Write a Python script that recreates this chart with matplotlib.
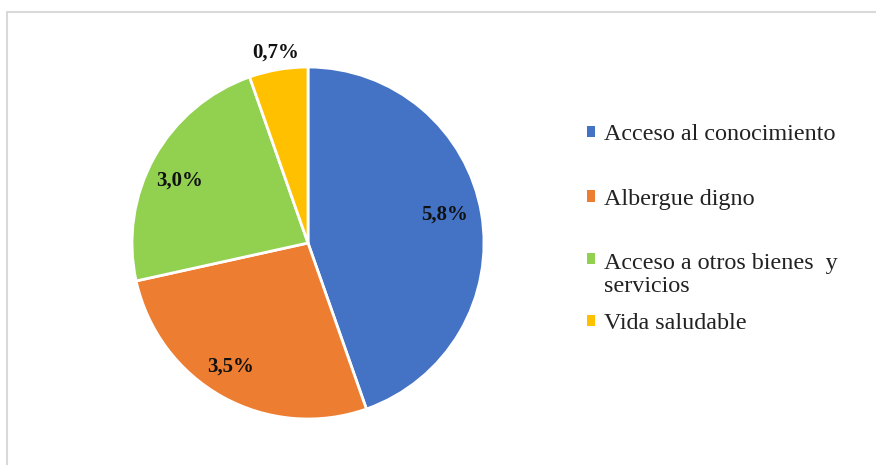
import numpy as np
import matplotlib as mpl
import matplotlib.pyplot as plt
from matplotlib.patches import Patch, Rectangle

mpl.rcParams["font.family"] = ["Liberation Serif", "DejaVu Serif"]

# data
categories = ["Acceso al conocimiento", "Albergue digno",
              "Acceso a otros bienes  y\nservicios", "Vida saludable"]
values = [5.8, 3.5, 3.0, 0.7]
value_labels = ["5,8%", "3,5%", "3,0%", "0,7%"]
colors = ["#4472C4", "#ED7D31", "#92D050", "#FFC000"]
label_dist = [0.79, 0.83, 0.81, 1.10]
label_shift = [2, -3, 3, 0]   # small angular nudges (deg)

W, H = 876, 465
fig = plt.figure(figsize=(W/100, H/100), dpi=100)

# pie axes: centre (308,243) px, radius 176 px
cx, cy, r = 308, 243, 176
ax = fig.add_axes([(cx-r)/W, (H-cy-r)/H, 2*r/W, 2*r/H])
wedges, _ = ax.pie(values, colors=colors, startangle=90, counterclock=False,
                   wedgeprops=dict(edgecolor="white", linewidth=2))
ax.set_xlim(-1, 1)
ax.set_ylim(-1, 1)
ax.set_aspect("equal")

for w, lab, d, s in zip(wedges, value_labels, label_dist, label_shift):
    th = np.deg2rad((w.theta1 + w.theta2)/2 + s)
    ax.text(d*np.cos(th), d*np.sin(th), lab, ha="center", va="center",
            fontsize=15, fontweight="bold", color="#111111")

# legend (two blocks so the spacing looks like the original)
handles = [Patch(facecolor=c, edgecolor="none") for c in colors]
leg_kw = dict(frameon=False, fontsize=17.4, handlelength=0.35, handleheight=0.35,
              handletextpad=0.35, borderpad=0, borderaxespad=0,
              loc="upper left")
leg1 = fig.legend(handles[:3], categories[:3], bbox_to_anchor=(587/W, 1-124/H),
                  labelspacing=1.8, **leg_kw)
leg2 = fig.legend(handles[3:], categories[3:], bbox_to_anchor=(587/W, 1-313/H),
                  **leg_kw)
for t in leg1.get_texts() + leg2.get_texts():
    t.set_color("#222222")
leg1.get_texts()[2].set_linespacing(1.12)
# marker next to the first line of the wrapped entry
rows = leg1._legend_handle_box.get_children()[0].get_children()
rows[2].align = "top"

# light grey frame (chart area border, cut at right/bottom)
fig.add_artist(Rectangle((7/W, -0.1), 1.2, 1 - 12/H + 0.1,
                         transform=fig.transFigure, fill=False,
                         edgecolor="#d9d9d9", linewidth=1.5))

fig.savefig("out.png", dpi=100)
